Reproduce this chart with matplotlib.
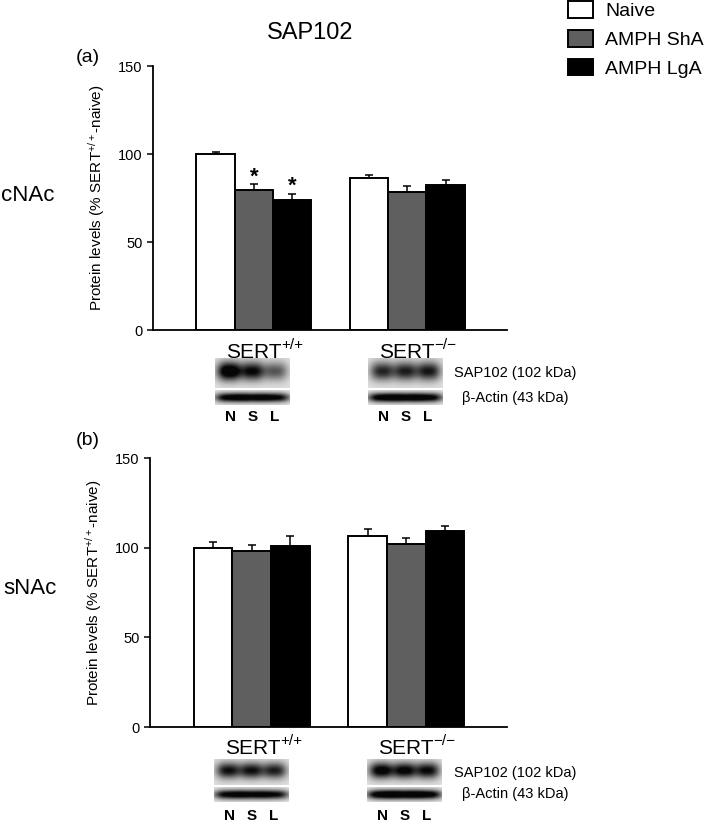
import numpy as np
import matplotlib
matplotlib.use("Agg")
import matplotlib.pyplot as plt

plt.rcParams["font.family"] = ["Liberation Sans", "DejaVu Sans"]
plt.rcParams["mathtext.fontset"] = "custom"
plt.rcParams["mathtext.rm"] = "Liberation Sans"
plt.rcParams["mathtext.it"] = "Liberation Sans:italic"
plt.rcParams["mathtext.bf"] = "Liberation Sans:bold"

# ---- data ----
groups = ["SERT+/+", "SERT-/-"]
series = ["Naive", "AMPH ShA", "AMPH LgA"]
colors = ["white", "#5f5f5f", "black"]

# panel (a) cNAc
a_naive = [100.0, 86.4]
a_sha = [79.4, 78.4]
a_lga = [73.7, 82.2]
a_naive_err = [1.0, 1.9]
a_sha_err = [3.6, 3.2]
a_lga_err = [3.8, 2.8]
a_signif = [[False, False], [True, False], [True, False]]

# panel (b) sNAc
b_naive = [100.0, 106.6]
b_sha = [98.3, 101.9]
b_lga = [101.1, 109.4]
b_naive_err = [3.3, 3.7]
b_sha_err = [3.2, 3.3]
b_lga_err = [5.6, 2.8]
b_signif = [[False, False], [False, False], [False, False]]

# relative band darkness for the blots (N, S, L lanes)
a_sap_wt = [1.25, 1.0, 0.62]
a_sap_ko = [0.85, 0.88, 0.92]
a_act_wt = [1.1, 1.1, 1.05]
a_act_ko = [1.15, 1.15, 1.1]
b_sap_wt = [0.95, 0.95, 0.88]
b_sap_ko = [1.1, 1.05, 1.0]
b_act_wt = [1.05, 1.05, 1.0]
b_act_ko = [1.2, 1.2, 1.15]
lane_labels = ["N", "S", "L"]

W, H = 709, 822
fig = plt.figure(figsize=(W / 100, H / 100), dpi=100)


def draw_panel(rect, vals, errs, signif):
    ax = fig.add_axes(rect)
    handles = []
    for i, (v, e, c) in enumerate(zip(vals, errs, colors)):
        xs = np.arange(len(groups)) * 4 + i
        b = ax.bar(xs, v, width=1.0, color=c, edgecolor="black", linewidth=1.4,
                   zorder=2, label=series[i])
        ax.errorbar(xs, v, yerr=[np.zeros(len(v)), e], fmt="none", ecolor="black",
                    elinewidth=1.1, capsize=3, capthick=1.1, zorder=1)
        for x, vv, ee, s in zip(xs, v, e, signif[i]):
            if s:
                ax.text(x, vv + ee + 0.8, "*", ha="center", va="baseline",
                        fontsize=16, fontweight="bold")
        handles.append(b)
    ax.set_xlim(-1.63, 7.6)
    ax.set_ylim(0, 150)
    ax.set_yticks([0, 50, 100, 150])
    ax.set_xticks([])
    ax.tick_params(axis="y", labelsize=10.5, length=4, width=1.1)
    for s in ["top", "right"]:
        ax.spines[s].set_visible(False)
    for s in ["left", "bottom"]:
        ax.spines[s].set_linewidth(1.3)
    ax.set_ylabel(r"Protein levels (% SERT$^{+/+}$-naive)", fontsize=11, labelpad=8)
    return ax, handles


ax_a, handles = draw_panel([153 / W, 1 - 330 / H, 354 / W, 264 / H],
                           [a_naive, a_sha, a_lga],
                           [a_naive_err, a_sha_err, a_lga_err], a_signif)
ax_b, _ = draw_panel([150 / W, 1 - 727 / H, 357 / W, 269 / H],
                     [b_naive, b_sha, b_lga],
                     [b_naive_err, b_sha_err, b_lga_err], b_signif)

fig.legend(handles=handles, loc="upper left", bbox_to_anchor=(568 / W, 1 - 1 / H),
           frameon=False, fontsize=14, handlelength=1.3, handleheight=0.95,
           handletextpad=0.6, labelspacing=0.5, borderpad=0, borderaxespad=0)

# overlay in pixel coordinates for labels and blots
ov = fig.add_axes([0, 0, 1, 1], zorder=-1)
ov.set_xlim(0, W)
ov.set_ylim(H, 0)
ov.axis("off")


def blot_strip(dark, w, h, lane_w, band_sigma, y_off, bg, scale=4):
    nx, ny = int(w * scale), int(h * scale)
    x = np.linspace(0, 1, nx)
    y = np.linspace(-1, 1, ny)[:, None]
    centers = [0.19, 0.5, 0.81]
    d = np.zeros((ny, nx))
    for c, k in zip(centers, dark):
        d += (k * np.exp(-np.abs((x - c) / lane_w) ** 2.6)[None, :]
              * np.exp(-np.abs((y - y_off) / band_sigma) ** 2.0))
    d = np.clip(d, 0, 0.97)
    return bg * (1 - d)


def draw_blot(x0, y0, w, sap, act, h_sap, h_act, gap):
    img1 = blot_strip(sap, w, h_sap, 0.16, 0.62, -0.12, 0.88)
    ov.imshow(img1, cmap="gray", vmin=0, vmax=1, extent=[x0, x0 + w, y0 + h_sap, y0],
              aspect="auto", interpolation="bilinear")
    y1 = y0 + h_sap + gap
    img2 = blot_strip(act, w, h_act, 0.19, 0.62, 0.0, 0.9)
    ov.imshow(img2, cmap="gray", vmin=0, vmax=1, extent=[x0, x0 + w, y1 + h_act, y1],
              aspect="auto", interpolation="bilinear")


def blot_row(y_sert, y_blot, y_lane, x_wt, x_ko, sap_wt, sap_ko, act_wt, act_ko,
             h_sap, h_act, gap, y_lab1, y_lab2):
    bw = 75
    for x0, sup, sap, act in [(x_wt, "+/+", sap_wt, act_wt),
                              (x_ko, "\u2212/\u2212", sap_ko, act_ko)]:
        ov.text(x0 + 11, y_sert, "SERT", fontsize=15, ha="left", va="center")
        ov.text(x0 + 66, y_sert - 7, sup, fontsize=11, ha="left", va="center")
        draw_blot(x0, y_blot, bw, sap, act, h_sap, h_act, gap)
        for c, lab in zip([0.21, 0.5, 0.8], lane_labels):
            ov.text(x0 + c * bw, y_lane, lab, fontsize=11, ha="center",
                    va="center", fontweight="bold")
    ov.text(515, y_lab1, "SAP102 (102 kDa)", fontsize=10.5, ha="center", va="center")
    ov.text(515, y_lab2, "\u03b2-Actin (43 kDa)", fontsize=10.5, ha="center", va="center")


blot_row(352, 359, 417, 215, 368, a_sap_wt, a_sap_ko, a_act_wt, a_act_ko,
         29, 15, 2, 373, 398)
blot_row(748, 760, 816, 214, 367, b_sap_wt, b_sap_ko, b_act_wt, b_act_ko,
         25, 15, 2, 773, 794)

ov.set_xlim(0, W)
ov.set_ylim(H, 0)

ov.text(310, 33, "SAP102", fontsize=17, ha="center", va="center")
ov.text(88, 58, "(a)", fontsize=14, ha="center", va="center")
ov.text(88, 440, "(b)", fontsize=14, ha="center", va="center")
ov.text(28, 195, "cNAc", fontsize=16, ha="center", va="center")
ov.text(30, 588, "sNAc", fontsize=16, ha="center", va="center")

fig.savefig("out.png", dpi=100)
